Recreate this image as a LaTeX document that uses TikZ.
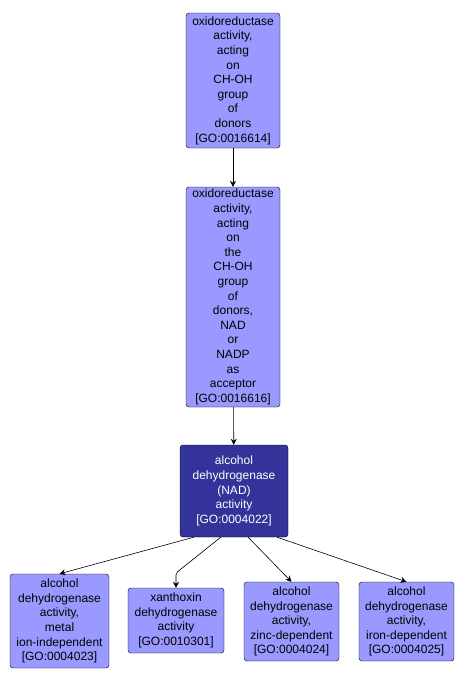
\documentclass[tikz,border=0pt]{standalone}
\usepackage{fontspec}
\setmainfont{Liberation Sans}
\usetikzlibrary{arrows.meta}

\begin{document}
\begin{tikzpicture}[x=1pt, y=-1pt,
    term/.style={rectangle, rounded corners=3pt, draw=black, fill=termlight, align=center, inner sep=0pt, font=\fontsize{12}{14.6}\selectfont},
    termdark/.style={term, fill=termdark, text=white},
    isa/.style={-{Stealth[length=6pt, width=6pt]}, semithick}]
    \definecolor{termlight}{HTML}{9999FF}
    \definecolor{termdark}{HTML}{333399}
    \useasboundingbox (0,0) rectangle (465,683);
    \node[term, minimum width=94pt, minimum height=135pt] (1) at (233,80.5) {oxidoreductase\\activity,\\acting\\on\\CH-OH\\group\\of\\donors\\{[GO:0016614]}};
    \node[term, minimum width=94pt, minimum height=220pt] (2) at (233,297) {oxidoreductase\\activity,\\acting\\on\\the\\CH-OH\\group\\of\\donors,\\NAD\\or\\NADP\\as\\acceptor\\{[GO:0016616]}};
    \node[termdark, minimum width=108pt, minimum height=92pt] (3) at (234,491) {alcohol\\dehydrogenase\\(NAD)\\activity\\{[GO:0004022]}};
    \node[term, minimum width=99pt, minimum height=94pt] (4) at (59.5,621) {alcohol\\dehydrogenase\\activity,\\metal\\ion-independent\\{[GO:0004023]}};
    \node[term, minimum width=96pt, minimum height=65pt] (5) at (176,620.5) {xanthoxin\\dehydrogenase\\activity\\{[GO:0010301]}};
    \node[term, minimum width=95pt, minimum height=79pt] (6) at (291.5,621.5) {alcohol\\dehydrogenase\\activity,\\zinc-dependent\\{[GO:0004024]}};
    \node[term, minimum width=95pt, minimum height=79pt] (7) at (406.5,621.5) {alcohol\\dehydrogenase\\activity,\\iron-dependent\\{[GO:0004025]}};
    \coordinate (5bend) at (176,573);
    \draw[isa] (1) -- (2);
    \draw[isa] (2) -- (3);
    \draw[isa] (3.-131.7) -- (4.north);
    \draw[isa, rounded corners=2pt] (3.-106.9) -- (5bend) -- (5.north);
    \draw[isa] (3.-73.1) -- (6.north);
    \draw[isa] (3.-47.6) -- (7.north);
\end{tikzpicture}
\end{document}
